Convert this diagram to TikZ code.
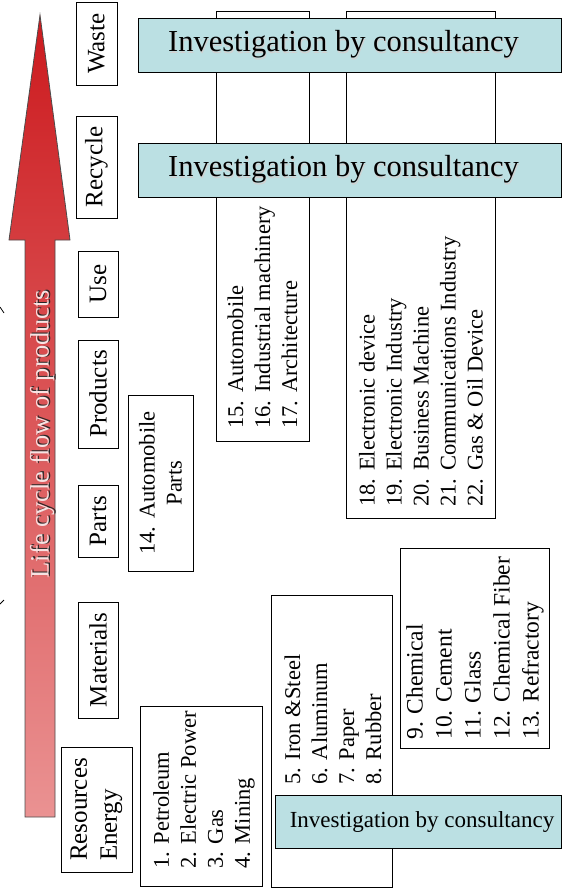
\documentclass[tikz,border=0pt]{standalone}
\usepackage{fontspec}
\setmainfont{Liberation Serif}

\definecolor{consultcyan}{RGB}{187,224,227}
\definecolor{arrowtop}{RGB}{204,26,30}
\definecolor{arrowbottom}{RGB}{234,146,146}
\definecolor{flowtext}{RGB}{248,226,226}

\tikzset{
  stage/.style={draw,rotate=90,inner sep=0pt,align=left,font=\fontsize{25}{30}\selectfont},
  listbox/.style={draw,inner sep=0pt},
  listtext/.style={rotate=90,anchor=west,inner sep=0pt,align=left,font=\fontsize{22.5}{27}\selectfont},
  consult/.style={draw,fill=consultcyan,inner sep=0pt,font=\fontsize{30.5}{36}\selectfont}
}
% text with a shadow: #1 shadow colour, #2 text colour, #3 text
\newcommand{\shadowed}[3]{\rlap{\raisebox{-1.5pt}{\hspace{0.8pt}\textcolor{#1}{#3}}}\textcolor{#2}{#3}}

\begin{document}
\begin{tikzpicture}[thick,x=1pt,y=-1pt]
   \useasboundingbox (0,0) rectangle (565,896);
   % the big arrow on the left
   \shade[draw=black!70,top color=arrowtop,bottom color=arrowbottom]
     (25,817) -- (25,240) -- (9,240) -- (40,15) -- (70,240) -- (55,240) -- (55,817) -- cycle;
   \node [rotate=90,inner sep=0pt,font=\fontsize{26.5}{30}\selectfont] (flow) at (43,434)
     {\shadowed{black!85}{flowtext}{Life cycle flow of products}};
   % clipped marks at the left border
   \draw (0,307) -- (4,313);
   \draw (0,604) -- (4,600);
   % stages of the life cycle
   \foreach \nm/\txt/\cx/\cy/\len/\wid in {waste/Waste/96.5/43.5/83/41,
       recycle/Recycle/96.5/167/102/41, use/Use/98/284/66/40,
       products/Products/98/394/108/40, parts/Parts/98/521/72/40,
       materials/Materials/98/660/116/40, resources/{Resources\\Energy}/96.5/809.5/125/71}
     \node [stage,minimum width=\len pt,minimum height=\wid pt] (\nm) at (\cx,\cy) {\txt};
   % boxes with the industries
   \node [listbox,rotate=90,align=center,minimum width=176pt,minimum height=65pt,
     font=\fontsize{22.5}{27}\selectfont] (autoparts) at (160.5,483) {14. Automobile\\Parts};
   \node [listbox,minimum width=122pt,minimum height=180pt] (energybox) at (201,796) {};
   \node [listbox,minimum width=93pt,minimum height=430pt] (machinebox) at (262.5,226) {};
   \node [listbox,minimum width=149pt,minimum height=507pt] (devicebox) at (420.5,264.5) {};
   \node [listbox,minimum width=121pt,minimum height=292pt] (metalbox) at (331.5,741) {};
   \node [listbox,minimum width=149pt,minimum height=200pt] (chemicalbox) at (474.5,648) {};
   \node [listtext] (energy) at (204,869)
     {1. Petroleum\\2. Electric Power\\3. Gas\\4. Mining};
   \node [listtext] (machine) at (262.5,429)
     {15. Automobile\\16. Industrial machinery\\17. Architecture};
   \node [listtext] (device) at (421,507)
     {18. Electronic device\\19. Electronic Industry\\20. Business Machine\\21. Communications Industry\\22. Gas \& Oil Device};
   \node [listtext] (metal) at (333,785)
     {5. Iron \&Steel\\6. Aluminum\\7. Paper\\8. Rubber};
   \node [listtext,font=\fontsize{23.5}{29}\selectfont] (chemical) at (475,740)
     {9. Chemical\\10. Cement\\11. Glass\\12. Chemical Fiber\\13. Refractory};
   % consultancy bands on top
   \foreach \nm/\cy in {consultwaste/45,consultrecycle/170}
     \node [consult,minimum width=423pt,minimum height=54pt] (\nm) at (349.5,\cy)
       {\shadowed{black!18}{black}{Investigation by consultancy}\hspace*{12pt}};
   \node [consult,minimum width=286pt,minimum height=53pt,font=\fontsize{23}{28}\selectfont]
     (consultmaterial) at (418,821.5) {\hspace*{8pt}Investigation by consultancy};
\end{tikzpicture}
\end{document}
